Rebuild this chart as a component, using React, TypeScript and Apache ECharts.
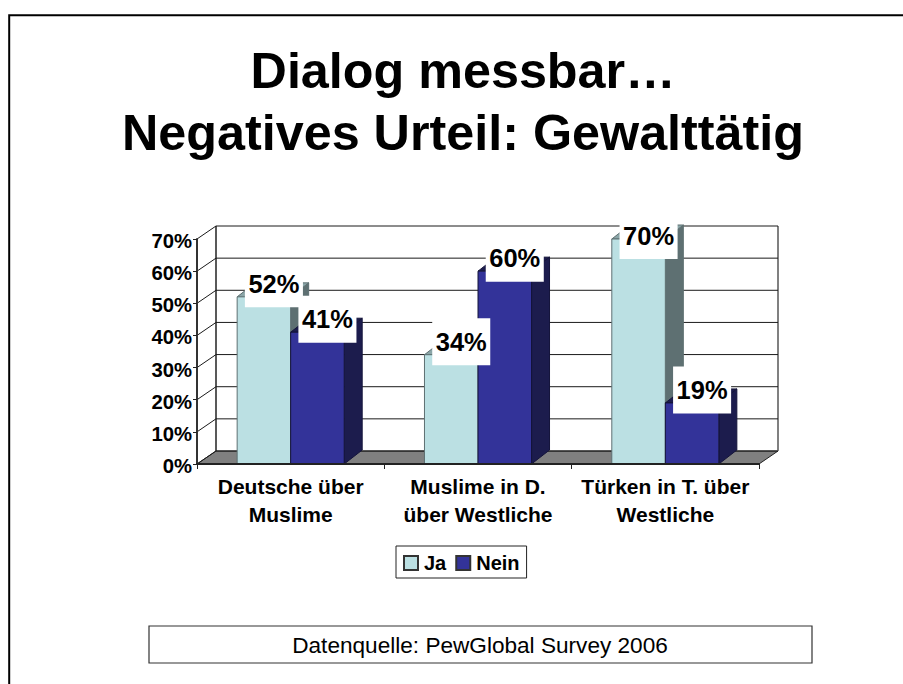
import React, { useEffect, useRef } from "react";
import * as echarts from "echarts";

const categories = ["Deutsche über\nMuslime", "Muslime in D.\nüber Westliche", "Türken in T. über\nWestliche"];
const jaValues = [52, 34, 70];
const neinValues = [41, 60, 19];
const yTicks = [0, 10, 20, 30, 40, 50, 60, 70];
const titleText = "Dialog messbar…\nNegatives Urteil: Gewalttätig";
const sourceText = "Datenquelle: PewGlobal Survey 2006";

const FONT = '"Liberation Sans", Arial, sans-serif';
const WALL_DX = 19;
const WALL_DY = -13;
const BAR_DX = 18;
const BAR_DY = -14;
const BAR_RATIO = 0.2857;

const GRID = { left: 197, top: 239, width: 562, height: 225 };

function barSeries(name: string, values: number[], side: -1 | 0, colors: { front: string; side: string; top: string; line: string }) {
  return {
    name,
    type: "custom",
    z: 2,
    silent: true,
    itemStyle: { color: colors.front, borderColor: "#333", borderWidth: 1 },
    encode: { x: 0, y: 1 },
    data: values.map((v, i) => [i, v]),
    renderItem: (_: any, api: any) => {
      const cat = api.value(0);
      const val = api.value(1);
      const [cx, yTop] = api.coord([cat, val]);
      const [, y0] = api.coord([cat, 0]);
      const w = api.size([1, 0])[0] * BAR_RATIO;
      const x = cx + side * w;
      const x1 = x + w;
      const stroke = { stroke: colors.line, lineWidth: 1 };
      const labelX = x + w / 2 + 10;
      const labelY = Math.max(yTop - 13, GRID.top - 3.5);
      return {
        type: "group",
        children: [
          {
            type: "polygon",
            shape: { points: [[x1, yTop], [x1 + BAR_DX, yTop + BAR_DY], [x1 + BAR_DX, y0 + BAR_DY], [x1, y0]] },
            style: { fill: colors.side, ...stroke },
          },
          {
            type: "polygon",
            shape: { points: [[x, yTop], [x1, yTop], [x1 + BAR_DX, yTop + BAR_DY], [x + BAR_DX, yTop + BAR_DY]] },
            style: { fill: colors.top, ...stroke },
          },
          {
            type: "rect",
            shape: { x, y: yTop, width: w, height: y0 - yTop },
            style: { fill: colors.front, ...stroke },
          },
          {
            type: "text",
            z2: 100,
            x: labelX,
            y: labelY,
            style: {
              text: `${val}%`,
              font: `bold 25.5px ${FONT}`,
              fill: "#000",
              align: "center",
              verticalAlign: "middle",
              backgroundColor: "#fff",
              padding: [9, 3.5],
              lineHeight: 29,
            },
          },
        ],
      };
    },
  };
}

const wallSeries = {
  name: "wall",
  type: "custom",
  z: 1,
  silent: true,
  encode: { y: 0 },
  data: yTicks.map((v) => [v]),
  renderItem: (_: any, api: any) => {
    const val = api.value(0);
    const lastCat = categories.length - 1;
    const catW = api.size([1, 0])[0];
    const [cx0, y] = api.coord([0, val]);
    const [cxN] = api.coord([lastCat, val]);
    const left = cx0 - catW / 2;
    const right = cxN + catW / 2;
    const bx0 = left + WALL_DX;
    const bx1 = right + WALL_DX;
    const by = y + WALL_DY;
    const dark = { stroke: "#1a1a1a", lineWidth: 1 };
    const children: any[] = [];
    if (val === yTicks[0]) {
      const [, yMax] = api.coord([0, yTicks[yTicks.length - 1]]);
      children.push({
        type: "polygon",
        shape: { points: [[left, y], [bx0, by], [bx1, by], [right, y]] },
        style: { fill: "#808080", stroke: "#222", lineWidth: 1 },
      });
      children.push({
        type: "line",
        shape: { x1: bx0, y1: yMax + WALL_DY, x2: bx0, y2: by },
        style: { stroke: "#222", lineWidth: 1.5 },
      });
      children.push({
        type: "line",
        shape: { x1: bx1, y1: yMax + WALL_DY, x2: bx1, y2: by },
        style: { stroke: "#808080", lineWidth: 2 },
      });
    }
    children.push({ type: "line", shape: { x1: bx0, y1: by, x2: bx1, y2: by }, style: dark });
    children.push({ type: "line", shape: { x1: left, y1: y, x2: bx0, y2: by }, style: dark });
    return { type: "group", children };
  },
};

export default function App() {
  const ref = useRef<HTMLDivElement>(null);
  useEffect(() => {
    const chart = echarts.init(ref.current!, undefined, { renderer: "svg" });
    chart.setOption({
      animation: false,
      backgroundColor: "#fff",
      textStyle: { fontFamily: FONT },
      title: {
        text: titleText,
        left: 458,
        top: 34.5,
        textAlign: "center",
        textStyle: { fontFamily: FONT, fontSize: 50.3, fontWeight: "bold", color: "#000", lineHeight: 62 },
      },
      grid: GRID,
      legend: {
        data: ["Ja", "Nein"],
        left: 396,
        top: 546,
        orient: "horizontal",
        padding: [7, 7, 5, 7],
        itemWidth: 14,
        itemHeight: 14,
        itemGap: 9,
        borderColor: "#222",
        borderWidth: 1,
        backgroundColor: "#fff",
        icon: "rect",
        selectedMode: false,
        textStyle: { fontFamily: FONT, fontSize: 20, fontWeight: "bold", color: "#000", padding: [0, 0, 0, 1] },
      },
      xAxis: {
        type: "category",
        data: categories,
        z: 3,
        axisLine: { lineStyle: { color: "#222", width: 2 } },
        axisTick: { show: true, length: 5, alignWithLabel: false, lineStyle: { color: "#222", width: 1 } },
        axisLabel: {
          interval: 0,
          margin: 8,
          fontFamily: FONT,
          fontSize: 21,
          fontWeight: "bold",
          color: "#000",
          lineHeight: 28,
        },
        splitLine: { show: false },
      },
      yAxis: {
        type: "value",
        min: 0,
        max: 70,
        interval: 10,
        z: 3,
        axisLine: { show: true, lineStyle: { color: "#333", width: 2 } },
        axisTick: { show: true, length: 4, lineStyle: { color: "#222", width: 1 } },
        axisLabel: {
          formatter: "{v|{value}%}",
          margin: 5,
          rich: {
            v: {
              fontFamily: FONT,
              fontSize: 20.3,
              fontWeight: "bold",
              color: "#000",
              padding: [4, 0, 0, 0],
            },
          },
        },
        splitLine: { show: false },
      },
      series: [
        wallSeries,
        barSeries("Ja", jaValues, -1, { front: "#bbe0e3", side: "#5e7072", top: "#8ba6a8", line: "#5e7072" }),
        barSeries("Nein", neinValues, 0, { front: "#333399", side: "#1c1c4d", top: "#1c1c4d", line: "#14143a" }),
      ],
      graphic: [
        {
          type: "polyline",
          shape: { points: [[9.2, 684], [9.2, 15.2], [903, 15.2]] },
          style: { fill: "none", stroke: "#000", lineWidth: 2 },
          silent: true,
        },
        {
          type: "rect",
          shape: { x: 149, y: 626, width: 663, height: 37 },
          style: { fill: "#fff", stroke: "#333", lineWidth: 1.2 },
          silent: true,
        },
        {
          type: "text",
          x: 480,
          y: 645,
          style: { text: sourceText, font: `22.6px ${FONT}`, fill: "#000", align: "center", verticalAlign: "middle" },
          silent: true,
        },
      ],
    });
    return () => chart.dispose();
  }, []);
  return <div ref={ref} style={{ position: "absolute", left: 0, top: 0, width: 903, height: 684 }} />;
}
